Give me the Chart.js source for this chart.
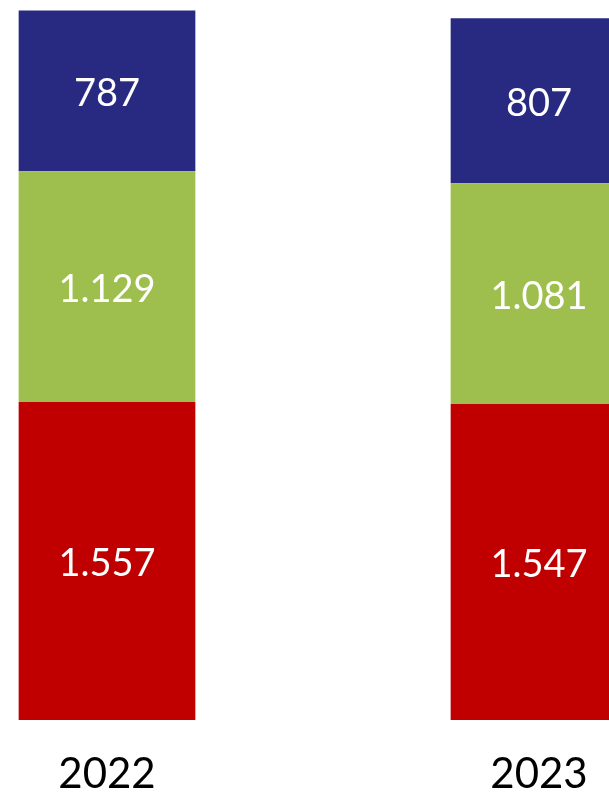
<!DOCTYPE html>
<html>
<head>
<meta charset="utf-8">
<script src="https://cdn.jsdelivr.net/npm/chart.js@4"></script>
<style>
  html, body { margin: 0; padding: 0; background: #fff; overflow: hidden; }
  #wrap { position: relative; width: 609px; height: 793px; overflow: hidden; }
  #barChart { position: absolute; left: -109px; top: 0; }
</style>
</head>
<body>
<div id="wrap">
  <canvas id="barChart" width="864" height="820"></canvas>
</div>
<script>
// Categories and stacked values (bottom to top)
const years = ['2022', '2023'];
const redValues = [1557, 1547];
const greenValues = [1129, 1081];
const blueValues = [787, 807];

// 1557 -> "1.557"
function formatNumber(v) {
    return String(v).replace(/\B(?=(\d{3})+(?!\d))/g, '.');
}

// Writes each value in the middle of its segment
const segmentLabels = {
    id: 'segmentLabels',
    afterDatasetsDraw(chart) {
        const ctx = chart.ctx;
        ctx.save();
        ctx.fillStyle = '#ffffff';
        ctx.font = '38px Lato, "Open Sans", sans-serif';
        ctx.textAlign = 'center';
        ctx.textBaseline = 'middle';
        chart.data.datasets.forEach((ds, i) => {
            const meta = chart.getDatasetMeta(i);
            meta.data.forEach((bar, j) => {
                const mid = (bar.y + bar.base) / 2;
                ctx.fillText(formatNumber(ds.data[j]), bar.x, mid + 3);
            });
        });
        ctx.restore();
    }
};

const config = {
    type: 'bar',
    data: {
        labels: years,
        datasets: [
            { label: 'red', data: redValues, backgroundColor: '#c00000' },
            { label: 'green', data: greenValues, backgroundColor: '#9ebf4d' },
            { label: 'blue', data: blueValues, backgroundColor: '#282a82' }
        ]
    },
    options: {
        responsive: false,
        animation: false,
        layout: { padding: { top: 5, left: 0, right: 0, bottom: 0 } },
        datasets: {
            bar: { categoryPercentage: 1, barPercentage: 0.409 }
        },
        plugins: {
            legend: { display: false },
            tooltip: { enabled: false }
        },
        scales: {
            x: {
                stacked: true,
                grid: { display: false },
                border: { display: false },
                ticks: {
                    color: '#000000',
                    padding: 25,
                    font: { family: 'Lato, "Open Sans", sans-serif', size: 42, lineHeight: 1 }
                }
            },
            y: {
                stacked: true,
                display: false,
                min: 0,
                max: 3500
            }
        }
    },
    plugins: [segmentLabels]
};

new Chart(document.getElementById('barChart'), config);
</script>
</body>
</html>
